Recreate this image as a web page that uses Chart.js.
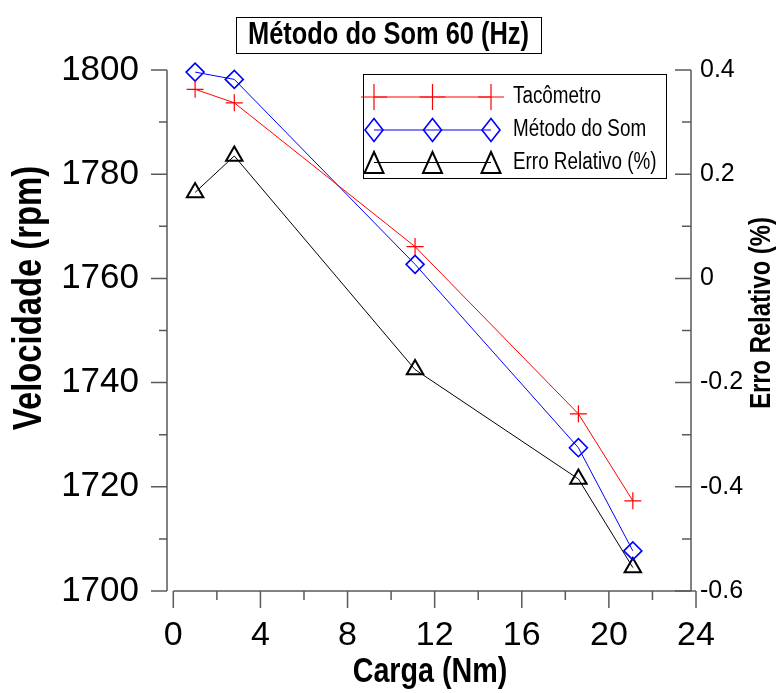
<!DOCTYPE html>
<html>
<head>
<meta charset="utf-8">
<script src="https://cdn.jsdelivr.net/npm/chart.js@4.4.1/dist/chart.umd.min.js"></script>
<style>
  html, body { margin: 0; padding: 0; background: #fff; }
</style>
</head>
<body>
<canvas id="chart" width="777" height="693"></canvas>
<script>
// values
const carga = [1.0, 2.8, 11.1, 18.6, 21.1];
const tacometro = [1796.3, 1793.7, 1766.1, 1734.0, 1717.3];
const metodoSom = [1799.6, 1798.2, 1762.7, 1727.5, 1707.7];
const erroRelativo = [0.165, 0.235, -0.175, -0.385, -0.555];
const xTicks = [0, 4, 8, 12, 16, 20, 24];
const seriesNames = ["Tacômetro", "Método do Som", "Erro Relativo (%)"];

const FAMILY = '"Liberation Sans", Arial, sans-serif';
const AXIS_COLOR = "#5a5a5a";

function pts(ys) {
  return carga.map((x, i) => ({ x: x, y: ys[i] }));
}

// text drawn a bit condensed, like a narrow font
function narrowText(ctx, text, x, y, font, angle, align) {
  ctx.save();
  ctx.translate(x, y);
  ctx.rotate(angle || 0);
  ctx.scale(0.82, 1);
  ctx.font = font;
  ctx.fillStyle = "#000";
  ctx.textAlign = align || "center";
  ctx.textBaseline = "middle";
  ctx.fillText(text, 0, 0);
  ctx.restore();
}

function marker(ctx, style, x, y, w, h) {
  ctx.beginPath();
  if (style === "cross") {
    ctx.moveTo(x - w, y); ctx.lineTo(x + w, y);
    ctx.moveTo(x, y - h); ctx.lineTo(x, y + h);
  } else if (style === "rectRot") {
    ctx.moveTo(x, y - h); ctx.lineTo(x + w, y);
    ctx.lineTo(x, y + h); ctx.lineTo(x - w, y); ctx.closePath();
  } else {
    ctx.moveTo(x, y - h); ctx.lineTo(x + w, y + h);
    ctx.lineTo(x - w, y + h); ctx.closePath();
  }
  ctx.stroke();
}

const axesPlugin = {
  id: "axes",
  beforeDatasetsDraw(chart) {
    const { ctx, scales } = chart;
    const x = scales.x, y = scales.y, y1 = scales.y1;
    ctx.save();
    ctx.strokeStyle = AXIS_COLOR;
    ctx.lineWidth = 1.5;
    // left axis, ticks outward
    const lx = y.right;
    ctx.beginPath();
    ctx.moveTo(lx, y.getPixelForValue(1800));
    ctx.lineTo(lx, y.getPixelForValue(1700));
    for (let v = 1700; v <= 1800; v += 10) {
      const py = y.getPixelForValue(v);
      const len = v % 20 === 0 ? 16 : 8;
      ctx.moveTo(lx - len, py);
      ctx.lineTo(lx, py);
    }
    ctx.stroke();
    // bottom axis, detached from the left one
    const by = y.getPixelForValue(1700);
    ctx.beginPath();
    ctx.moveTo(x.getPixelForValue(0), by);
    ctx.lineTo(x.getPixelForValue(24), by);
    for (let v = 0; v <= 24; v += 2) {
      const px = x.getPixelForValue(v);
      const len = v % 4 === 0 ? 17 : 9;
      ctx.moveTo(px, by);
      ctx.lineTo(px, by + len);
    }
    ctx.stroke();
    // right axis, ticks inward
    const rx = y1.left;
    ctx.beginPath();
    ctx.moveTo(rx, y1.getPixelForValue(0.4));
    ctx.lineTo(rx, y1.getPixelForValue(-0.6));
    for (let k = -6; k <= 4; k++) {
      const py = y1.getPixelForValue(k / 10);
      const len = k % 2 === 0 ? 16 : 9;
      ctx.moveTo(rx - len, py);
      ctx.lineTo(rx, py);
    }
    ctx.stroke();
    ctx.restore();
  },
  afterDraw(chart) {
    const ctx = chart.ctx;
    ctx.save();
    // boxed title
    ctx.strokeStyle = "#000";
    ctx.lineWidth = 1;
    ctx.strokeRect(236.5, 17.5, 305, 36);
    narrowText(ctx, "Método do Som 60 (Hz)", 388.5, 35.5, "bold 31px " + FAMILY);
    // axis titles
    narrowText(ctx, "Velocidade (rpm)", 30, 298, "bold 40px " + FAMILY, -Math.PI / 2);
    narrowText(ctx, "Carga (Nm)", 430, 672, "bold 35px " + FAMILY);
    narrowText(ctx, "Erro Relativo (%)", 762, 313, "bold 29px " + FAMILY, -Math.PI / 2);

    // legend with three markers per line
    ctx.fillStyle = "#fff";
    ctx.fillRect(363.5, 74.5, 303, 104);
    ctx.strokeStyle = "#000";
    ctx.strokeRect(363.5, 74.5, 303, 104);
    const rows = [97, 130, 162.5];
    const sizes = [[13, 13], [9, 11.5], [9.5, 10.5]];
    chart.data.datasets.forEach((ds, i) => {
      const ry = rows[i];
      ctx.strokeStyle = ds.borderColor;
      ctx.lineWidth = 1;
      ctx.beginPath();
      ctx.moveTo(374, ry);
      ctx.lineTo(491, ry);
      ctx.stroke();
      ctx.lineWidth = ds.pointBorderWidth;
      [374, 432.5, 491].forEach(mx => {
        marker(ctx, ds.pointStyle, mx, ry, sizes[i][0], sizes[i][1]);
      });
      narrowText(ctx, ds.label, 513, ry, "23px " + FAMILY, 0, "left");
    });
    ctx.restore();
  }
};

new Chart(document.getElementById("chart").getContext("2d"), {
  type: "line",
  data: {
    datasets: [
      {
        label: seriesNames[0],
        data: pts(tacometro),
        yAxisID: "y",
        clip: false,
        borderColor: "#ff0000",
        borderWidth: 1,
        pointStyle: "cross",
        pointRadius: 8.5,
        pointBorderWidth: 1.2,
        pointBorderColor: "#ff0000",
        pointBackgroundColor: "rgba(0,0,0,0)",
      },
      {
        label: seriesNames[1],
        data: pts(metodoSom),
        yAxisID: "y",
        clip: false,
        borderColor: "#0000ff",
        borderWidth: 1,
        pointStyle: "rectRot",
        pointRadius: 9,
        pointBorderWidth: 1.6,
        pointBorderColor: "#0000ff",
        pointBackgroundColor: "rgba(0,0,0,0)",
      },
      {
        label: seriesNames[2],
        data: pts(erroRelativo),
        yAxisID: "y1",
        clip: false,
        borderColor: "#000000",
        borderWidth: 1,
        pointStyle: "triangle",
        pointRadius: 9.5,
        pointBorderWidth: 2,
        pointBorderColor: "#000000",
        pointBackgroundColor: "rgba(0,0,0,0)",
      },
    ],
  },
  options: {
    responsive: false,
    animation: false,
    devicePixelRatio: 1,
    layout: { padding: { top: 70, left: 0, right: 0, bottom: 0 } },
    plugins: {
      legend: { display: false },
      title: { display: false },
      tooltip: { enabled: false },
    },
    scales: {
      x: {
        type: "linear",
        min: -0.29,
        max: 23.77,
        afterBuildTicks: (s) => {
          s.ticks = xTicks.map((v) => ({ value: v }));
        },
        afterFit: (s) => {
          s.height = 102;
        },
        ticks: {
          autoSkip: false,
          maxRotation: 0,
          padding: 24,
          color: "#000",
          font: { family: FAMILY, size: 34 },
          callback: (v) => String(v),
        },
        grid: { display: false, drawTicks: false },
        border: { display: false },
      },
      y: {
        position: "left",
        min: 1700,
        max: 1800,
        afterFit: (s) => {
          s.width = 167;
        },
        ticks: {
          stepSize: 20,
          padding: 28,
          color: "#000",
          font: { family: FAMILY, size: 35 },
          callback: (v) => String(v),
        },
        grid: { display: false, drawTicks: false },
        border: { display: false },
      },
      y1: {
        position: "right",
        min: -0.6,
        max: 0.4,
        afterFit: (s) => {
          s.width = 86;
        },
        ticks: {
          stepSize: 0.2,
          padding: 9,
          color: "#000",
          font: { family: FAMILY, size: 25 },
          callback: (v) => String(Math.round(v * 10) / 10),
        },
        grid: { display: false, drawTicks: false },
        border: { display: false },
      },
    },
  },
  plugins: [axesPlugin],
});
</script>
</body>
</html>
